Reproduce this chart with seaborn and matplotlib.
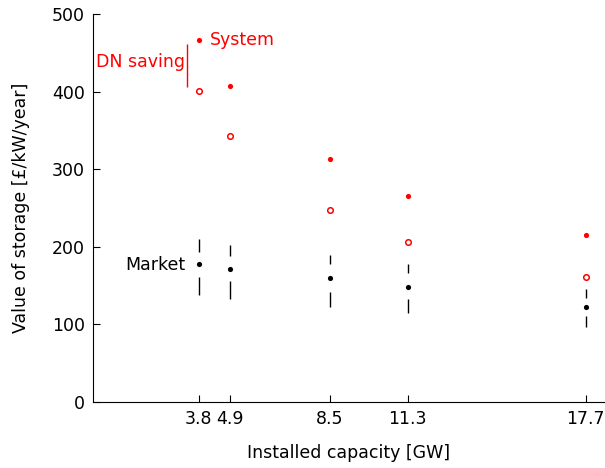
import numpy as np
import pandas as pd
import matplotlib
matplotlib.use("Agg")
import matplotlib.pyplot as plt
import seaborn as sns

# installed capacity [GW]
capacity = [3.8, 4.9, 8.5, 11.3, 17.7]
# value of storage [GBP/kW/year]
system_value = [466, 407, 313, 265, 215]
system_no_dn = [401, 343, 247, 206, 161]
market_median = [178, 171, 160, 148, 122]
market_min = [138, 133, 122, 115, 97]
market_q1 = [161, 156, 142, 133, 111]
market_q3 = [193, 188, 178, 166, 134]
market_max = [210, 202, 189, 178, 146]

dn_x = 3.38
dn_lo, dn_hi = 406, 462

df = pd.DataFrame({
    "capacity": capacity,
    "system": system_value,
    "system_no_dn": system_no_dn,
    "market": market_median,
})

sns.set_style("ticks", {"axes.edgecolor": "black", "text.color": "black",
                        "xtick.color": "black", "ytick.color": "black",
                        "axes.labelcolor": "black"})
plt.rcParams["font.family"] = ["DejaVu Sans"]
plt.rcParams["font.size"] = 12.5

fig = plt.figure(figsize=(6.05, 4.68), dpi=100)
ax = fig.add_axes([0.154, 0.141, 0.844, 0.829])

red = "#ff0000"
# market whiskers, with a gap around the median
ax.vlines(df["capacity"], market_min, market_q1, color="black", lw=1.0)
ax.vlines(df["capacity"], market_q3, market_max, color="black", lw=1.0)

sns.scatterplot(data=df, x="capacity", y="market", ax=ax, color="black",
                s=14, linewidth=0, zorder=3)
sns.scatterplot(data=df, x="capacity", y="system", ax=ax, color=red,
                s=14, linewidth=0, zorder=3)
ax.scatter(df["capacity"], df["system_no_dn"], s=16, facecolors="white",
           edgecolors=red, linewidths=1.1, zorder=3)

# DN saving bracket
ax.vlines(dn_x, dn_lo, dn_hi, color=red, lw=1.0)
ax.text(3.3, 438, "DN saving", color=red, ha="right", va="center", fontsize=12.5)
ax.text(4.2, 466, "System", color=red, ha="left", va="center", fontsize=12.5)
ax.text(3.3, 177, "Market", color="black", ha="right", va="center", fontsize=12.5)

ax.set_xlim(0, 18.35)
ax.set_ylim(0, 500)
ax.set_xticks(capacity)
ax.set_xticklabels([str(c) for c in capacity])
ax.set_yticks([0, 100, 200, 300, 400, 500])
ax.tick_params(direction="in", length=5, width=0.8, pad=6)
ax.set_xlabel("Installed capacity [GW]", labelpad=11)
ax.set_ylabel("Value of storage [£/kW/year]", labelpad=16)
sns.despine(ax=ax)
for s in ["left", "bottom"]:
    ax.spines[s].set_linewidth(0.8)

fig.savefig("out.png", dpi=100)
